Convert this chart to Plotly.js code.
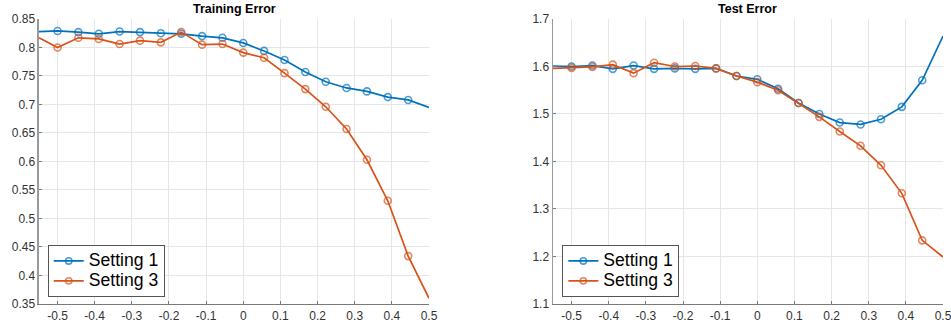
<!DOCTYPE html>
<html>
<head>
<meta charset="utf-8">
<script src="https://cdn.plot.ly/plotly-3.0.1.min.js"></script>
<style>html,body{margin:0;padding:0;background:#fff;}#chart{width:951px;height:328px;}</style>
</head>
<body>
<div id="chart"></div>
<script>
// x positions (first and last entries are the values where the lines meet the axis edges)
const xVals = [-0.55, -0.5, -0.444, -0.389, -0.333, -0.278, -0.222, -0.167, -0.111, -0.056, 0, 0.056, 0.111, 0.167, 0.222, 0.278, 0.333, 0.389, 0.444, 0.5];

const trainSetting1 = [0.828, 0.829, 0.827, 0.824, 0.828, 0.827, 0.825, 0.824, 0.820, 0.817, 0.808, 0.794, 0.778, 0.757, 0.740, 0.729, 0.723, 0.713, 0.708, 0.695];
const trainSetting3 = [0.817, 0.800, 0.817, 0.815, 0.806, 0.812, 0.809, 0.827, 0.805, 0.806, 0.791, 0.782, 0.755, 0.727, 0.696, 0.657, 0.603, 0.531, 0.434, 0.360];

const testSetting1 = [1.601, 1.600, 1.602, 1.595, 1.602, 1.595, 1.596, 1.595, 1.596, 1.580, 1.573, 1.553, 1.523, 1.500, 1.482, 1.478, 1.489, 1.515, 1.571, 1.664];
const testSetting3 = [1.596, 1.597, 1.599, 1.604, 1.586, 1.608, 1.600, 1.601, 1.596, 1.580, 1.567, 1.550, 1.523, 1.494, 1.463, 1.433, 1.392, 1.333, 1.234, 1.199];

const seriesNames = ["Setting 1", "Setting 3"];
const panelTitles = ["Training Error", "Test Error"];

const xTickVals = [-0.5, -0.4, -0.3, -0.2, -0.1, 0, 0.1, 0.2, 0.3, 0.4, 0.5];
const xTickText = ["-0.5", "-0.4", "-0.3", "-0.2", "-0.1", "0", "0.1", "0.2", "0.3", "0.4", "0.5"];
const yTrainTickVals = [0.35, 0.4, 0.45, 0.5, 0.55, 0.6, 0.65, 0.7, 0.75, 0.8, 0.85];
const yTrainTickText = ["0.35", "0.4", "0.45", "0.5", "0.55", "0.6", "0.65", "0.7", "0.75", "0.8", "0.85"];
const yTestTickVals = [1.1, 1.2, 1.3, 1.4, 1.5, 1.6, 1.7];
const yTestTickText = ["1.1", "1.2", "1.3", "1.4", "1.5", "1.6", "1.7"];

const BLUE = "#0072BD", ORANGE = "#D95319";
// markers only at interior sample points (edge entries just carry the line to the frame)
const markerSizes = xVals.map((v, i) => (i === 0 || i === xVals.length - 1) ? 0 : 7);

function tr(y, name, color, xa, ya, lg) {
  return {
    x: xVals, y: y, name: '<span style="font-size:17.6px">' + name + '</span>',
    type: "scatter", mode: "lines+markers",
    xaxis: xa, yaxis: ya, legend: lg, cliponaxis: true,
    line: {color: color, width: 1.7},
    marker: {symbol: "circle-open", size: markerSizes, color: color, line: {color: color, width: 1.6}}
  };
}

const data = [
  tr(trainSetting1, seriesNames[0], BLUE, "x", "y", "legend"),
  tr(trainSetting3, seriesNames[1], ORANGE, "x", "y", "legend"),
  tr(testSetting1, seriesNames[0], BLUE, "x2", "y2", "legend2"),
  tr(testSetting3, seriesNames[1], ORANGE, "x2", "y2", "legend2")
];

const tickFont = {family: "Arial, 'Liberation Sans', sans-serif", size: 12, color: "#333333"};
function xAx(domain, anchor) {
  return {
    domain: domain, anchor: anchor, range: [-0.55, 0.5], tickvals: xTickVals, ticktext: xTickText,
    showgrid: true, gridcolor: "#e6e6e6", gridwidth: 1, zeroline: false,
    showline: true, linecolor: "#7a7a7a", linewidth: 1,
    ticks: "inside", ticklen: 3, tickcolor: "#7a7a7a", tickfont: tickFont, fixedrange: true,
    ticklabeloverflow: "allow", ticklabelstandoff: 1
  };
}
function yAx(domain, anchor, range, tv, tt) {
  return {
    domain: domain, anchor: anchor, range: range, tickvals: tv, ticktext: tt,
    showgrid: true, gridcolor: "#e6e6e6", gridwidth: 1, zeroline: false,
    showline: true, linecolor: "#9a9a9a", linewidth: 1.5,
    ticks: "inside", ticklen: 3, tickcolor: "#7a7a7a", tickfont: tickFont, fixedrange: true,
    ticklabeloverflow: "allow"
  };
}
const legendStyle = (x) => ({
  x: x, y: 0.0945, xanchor: "left", yanchor: "bottom", xref: "paper", yref: "paper",
  bgcolor: "#ffffff", bordercolor: "#555555", borderwidth: 1,
  font: {family: "Arial, 'Liberation Sans', sans-serif", size: 13, color: "#000000"},
  tracegroupgap: 0, itemwidth: 30
});

const titleFont = {family: "Arial, 'Liberation Sans', sans-serif", size: 12.5, color: "#000000", weight: "bold"};

const layout = {
  width: 951, height: 328,
  margin: {l: 0, r: 0, t: 0, b: 0},
  paper_bgcolor: "#ffffff", plot_bgcolor: "#ffffff",
  showlegend: true,
  xaxis: xAx([0.041, 0.4511], "y"),
  yaxis: yAx([0.0732, 0.9421], "x", [0.35, 0.85], yTrainTickVals, yTrainTickText),
  xaxis2: xAx([0.5815, 0.9916], "y2"),
  yaxis2: yAx([0.0732, 0.9421], "x2", [1.1, 1.7], yTestTickVals, yTestTickText),
  legend: legendStyle(0.0502),
  legend2: legendStyle(0.5913),
  annotations: [
    {text: panelTitles[0], xref: "paper", yref: "paper", x: 0.2461, y: 0.9726, xanchor: "center", yanchor: "middle", showarrow: false, font: titleFont},
    {text: panelTitles[1], xref: "paper", yref: "paper", x: 0.7865, y: 0.9726, xanchor: "center", yanchor: "middle", showarrow: false, font: titleFont}
  ]
};

Plotly.newPlot("chart", data, layout, {displayModeBar: false, staticPlot: true});
</script>
</body>
</html>
